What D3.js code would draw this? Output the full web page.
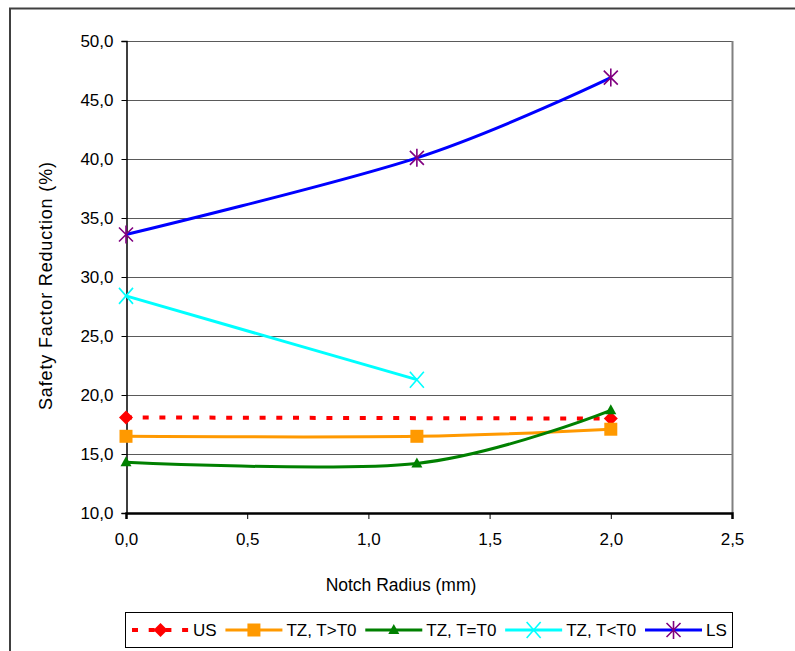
<!DOCTYPE html>
<html>
<head>
<meta charset="utf-8">
<script src="https://cdn.jsdelivr.net/npm/d3@7"></script>
<style>
  body { margin: 0; background: #fff; }
  svg { display: block; }
  text { font-family: "Liberation Sans", Arial, sans-serif; fill: #000; }
</style>
</head>
<body>
<svg id="chart" width="795" height="651"></svg>
<script>
// Notch radius (mm) at which each condition was evaluated
const radius = [0, 1.2, 2.0];

// Safety factor reduction (%) per loading condition
const usValues      = [18.1, null, 18.0];
const tzHotValues   = [16.5, 16.5, 17.1];
const tzEqualValues = [14.3, 14.2, 18.7];
const tzColdValues  = [28.4, 21.3, null];
const lsValues      = [33.6, 40.1, 46.9];

const seriesNames = ["US", "TZ, T>T0", "TZ, T=T0", "TZ, T<T0", "LS"];

const xTicks = [0, 0.5, 1.0, 1.5, 2.0, 2.5];
const yTicks = [10, 15, 20, 25, 30, 35, 40, 45, 50];

const xTitle = "Notch Radius (mm)";
const yTitle = "Safety Factor Reduction (%)";

// marker shapes, drawn around (0,0)
const markerPaths = {
  diamond: "M0,-7L7,0L0,7L-7,0Z",
  square: "M-6.5,-6.5H6.5V6.5H-6.5Z",
  triangle: "M0,-6L5.5,4L-5.5,4Z",
  cross: "M-7,-8L7,8M-7,8L7,-8",
  star: "M-7,-7L7,7M-7,7L7,-7M0,-9L0,9"
};

const styles = [
  { line: "#FF0000", marker: "diamond",  fill: "#FF0000", stroke: "none",    dash: "6,10.7", width: 4 },
  { line: "#FF9900", marker: "square",   fill: "#FF9900", stroke: "none",    dash: null,     width: 3 },
  { line: "#008000", marker: "triangle", fill: "#008000", stroke: "none",    dash: null,     width: 3 },
  { line: "#00FFFF", marker: "cross",    fill: "none",    stroke: "#00FFFF", dash: null,     width: 3 },
  { line: "#0000FF", marker: "star",     fill: "none",    stroke: "#800080", dash: null,     width: 3 }
];

const seriesValues = [usValues, tzHotValues, tzEqualValues, tzColdValues, lsValues];
const series = seriesNames.map((name, i) => ({
  name,
  style: styles[i],
  points: radius.map((r, j) => ({ x: r, y: seriesValues[i][j] })).filter(p => p.y != null)
}));

const svg = d3.select("#chart");
const plot = { left: 126, right: 732, top: 41, bottom: 513 };

const x = d3.scaleLinear().domain([0, 2.5]).range([plot.left, plot.right]);
const y = d3.scaleLinear().domain([10, 50]).range([plot.bottom, plot.top]);

const comma = v => d3.format(".1f")(v).replace(".", ",");

// outer chart frame
svg.append("rect")
  .attr("x", 10).attr("y", 8.5).attr("width", 820).attr("height", 700)
  .attr("fill", "none").attr("stroke", "#404040").attr("stroke-width", 2);

// horizontal gridlines
svg.append("g")
  .selectAll("line")
  .data(yTicks.filter(t => t > 10))
  .join("line")
  .attr("x1", plot.left).attr("x2", plot.right)
  .attr("y1", d => Math.round(y(d)) + 0.5).attr("y2", d => Math.round(y(d)) + 0.5)
  .attr("stroke", "#5a5a5a").attr("stroke-width", 1);

// right edge of the plot area
svg.append("line")
  .attr("x1", plot.right + 0.5).attr("x2", plot.right + 0.5)
  .attr("y1", plot.top).attr("y2", plot.bottom)
  .attr("stroke", "#808080").attr("stroke-width", 2);

// y axis
const yAxis = svg.append("g")
  .attr("transform", `translate(${plot.left + 0.5},0)`)
  .call(d3.axisLeft(y).tickValues(yTicks).tickFormat(comma).tickSize(5).tickPadding(8));
yAxis.select(".domain").attr("stroke", "#000").attr("stroke-width", 1.5);
yAxis.selectAll(".tick line").attr("stroke", "#000");
yAxis.selectAll("text")
  .style("font-family", '"Liberation Sans", Arial, sans-serif')
  .style("font-size", "17px").attr("fill", "#000");

// x axis
const xAxis = svg.append("g")
  .attr("transform", `translate(0,${plot.bottom})`)
  .call(d3.axisBottom(x).tickValues(xTicks).tickFormat(comma).tickSize(6).tickPadding(14));
xAxis.select(".domain").attr("stroke", "#000").attr("stroke-width", 2.5);
xAxis.selectAll(".tick line").attr("stroke", "#000");
xAxis.selectAll("text")
  .style("font-family", '"Liberation Sans", Arial, sans-serif')
  .style("font-size", "17px").attr("fill", "#000");

// axis titles
svg.append("text")
  .attr("x", 401).attr("y", 591)
  .attr("text-anchor", "middle")
  .style("font-size", "17.5px")
  .text(xTitle);

svg.append("text")
  .attr("transform", "translate(52,286) rotate(-90)")
  .attr("text-anchor", "middle")
  .attr("textLength", 248).attr("lengthAdjust", "spacing")
  .style("font-size", "18px")
  .text(yTitle);

// series lines and markers
const line = d3.line()
  .x(d => x(d.x)).y(d => y(d.y))
  .curve(d3.curveCardinal.tension(0));

series.forEach(s => {
  const g = svg.append("g");
  g.append("path")
    .attr("d", line(s.points))
    .attr("fill", "none")
    .attr("stroke", s.style.line)
    .attr("stroke-width", s.style.width)
    .attr("stroke-dasharray", s.style.dash)
    .attr("stroke-linejoin", "round");
  g.selectAll("path.marker")
    .data(s.points)
    .join("path")
    .attr("class", "marker")
    .attr("transform", d => `translate(${x(d.x)},${y(d.y)})`)
    .attr("d", markerPaths[s.style.marker])
    .attr("fill", s.style.fill)
    .attr("stroke", s.style.stroke)
    .attr("stroke-width", 1.6);
});

// legend
const legend = svg.append("g");
legend.append("rect")
  .attr("x", 125.5).attr("y", 612.5).attr("width", 607).attr("height", 35)
  .attr("fill", "#fff").attr("stroke", "#000").attr("stroke-width", 1);

let lx = 132;
const ly = 630;
const sampleLen = 57;
series.forEach(s => {
  legend.append("line")
    .attr("x1", lx).attr("x2", lx + sampleLen)
    .attr("y1", ly).attr("y2", ly)
    .attr("stroke", s.style.line)
    .attr("stroke-width", s.style.width)
    .attr("stroke-dasharray", s.style.dash);
  legend.append("path")
    .attr("transform", `translate(${lx + sampleLen / 2},${ly})`)
    .attr("d", markerPaths[s.style.marker])
    .attr("fill", s.style.fill)
    .attr("stroke", s.style.stroke)
    .attr("stroke-width", 1.6);
  const t = legend.append("text")
    .attr("x", lx + sampleLen + 4).attr("y", ly + 6)
    .style("font-size", "17px")
    .text(s.name);
  lx += sampleLen + 4 + t.node().getComputedTextLength() + 8.8;
});
</script>
</body>
</html>
